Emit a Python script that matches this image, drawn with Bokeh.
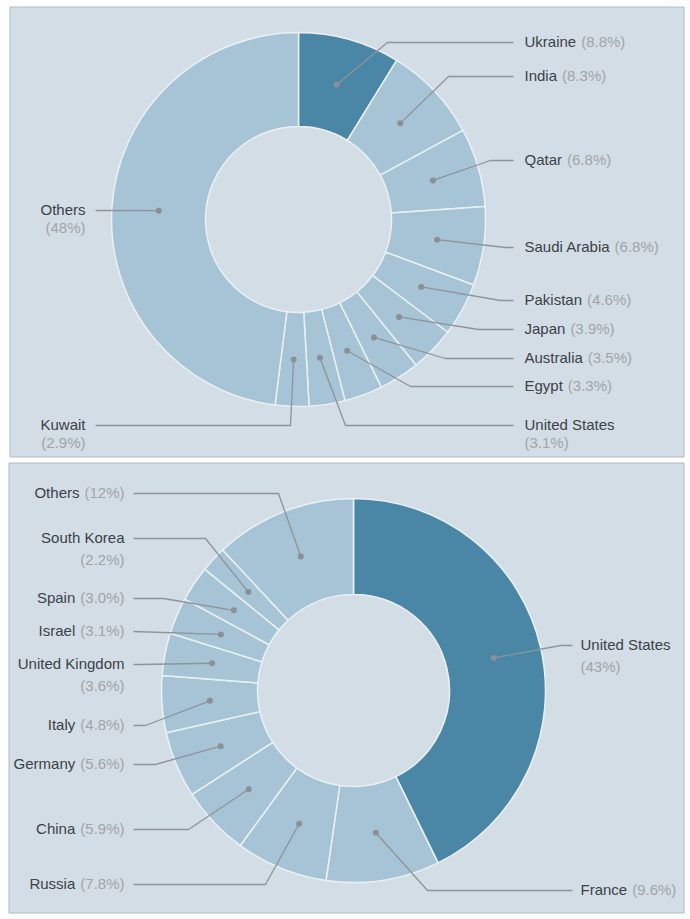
import math
import glob
from bokeh.plotting import figure
from bokeh.models import Range1d
from bokeh.core.properties import value
from bokeh.embed import file_html
from bokeh.resources import INLINE

# ---------------- data ----------------
top_names = ["Ukraine", "India", "Qatar", "Saudi Arabia", "Pakistan", "Japan",
             "Australia", "Egypt", "United States", "Kuwait", "Others"]
top_shares = [8.8, 8.3, 6.8, 6.8, 4.6, 3.9, 3.5, 3.3, 3.1, 2.9, 48]
top_pcts = ["(8.8%)", "(8.3%)", "(6.8%)", "(6.8%)", "(4.6%)", "(3.9%)",
            "(3.5%)", "(3.3%)", "(3.1%)", "(2.9%)", "(48%)"]

bot_names = ["United States", "France", "Russia", "China", "Germany", "Italy",
             "United Kingdom", "Israel", "Spain", "South Korea", "Others"]
bot_shares = [43, 9.6, 7.8, 5.9, 5.6, 4.8, 3.6, 3.1, 3.0, 2.2, 12]
bot_pcts = ["(43%)", "(9.6%)", "(7.8%)", "(5.9%)", "(5.6%)", "(4.8%)",
            "(3.6%)", "(3.1%)", "(3.0%)", "(2.2%)", "(12%)"]

# ---------------- layout (page pixels) ----------------
top_center = (298, 219)
top_radii = (93, 187)
top_side = ["R"] * 9 + ["L", "L"]
top_label_y = [41, 75, 159, 246, 299, 328, 357, 385, 424, 424, 209]
top_two_line = [False] * 8 + [True, True, True]
top_elbow_x = [387, 448, 490, 505, 500, 478, 445, 410, 345, 290, 95]

bot_center = (353, 690)
bot_radii = (96, 192)
bot_side = ["R", "R"] + ["L"] * 9
bot_label_y = [644, 889, 883, 828, 763, 724, 663, 630, 597, 537, 492]
bot_two_line = [True, False, False, False, False, False, True, False, False, True, False]
bot_elbow_x = [560, 427, 265, 188, 155, 145, 140, 133, 163, 205, 278]

FONT = "Liberation Sans"
FS = 15
NAME_COLOR = "#3b4249"
PCT_COLOR = "#a0a5a9"
LINE_COLOR = "#8e9499"
PANEL_BG = "#d3dde5"
LIGHT = "#a6c4d6"
DARK = "#4a87a6"
SEP = "#eaf1f5"


def make_measure():
    try:
        from PIL import ImageFont
        paths = glob.glob("/usr/share/fonts/**/LiberationSans-Regular.ttf", recursive=True)
        f = ImageFont.truetype(paths[0], FS)
        return lambda s: f.getlength(s)
    except Exception:
        return lambda s: 0.52 * FS * len(s)


measure = make_measure()

W, H = 688, 916


def Y(y):
    return H - y


p = figure(width=W, height=H, x_range=Range1d(0, W), y_range=Range1d(0, H),
           output_backend="svg", toolbar_location=None, min_border=0,
           min_border_left=0, min_border_right=0, min_border_top=0, min_border_bottom=0)
p.axis.visible = False
p.grid.visible = False
p.outline_line_color = None
p.background_fill_color = "white"
p.border_fill_color = "white"

# panels
p.quad(left=[9.5, 8.5], right=[683.5, 683.5], top=[Y(6.5), Y(462.5)], bottom=[Y(456.5), Y(912.5)],
       fill_color=PANEL_BG, line_color="#a9bcc6", line_width=1)


def donut(names, shares, pcts, center, radii, side, label_y, two_line, elbow_x,
          text_right_x, text_left_x, line_left_end, line_right_end, pct_dy):
    cx, cy = center
    r_in, r_out = radii
    total = float(sum(shares))
    starts, ends, mids = [], [], []
    c = 0.0
    for s in shares:
        a0 = c / total
        c += s
        a1 = c / total
        starts.append(math.pi / 2 - 2 * math.pi * a0)
        ends.append(math.pi / 2 - 2 * math.pi * a1)
        mids.append(2 * math.pi * (a0 + a1) / 2)
    colors = [DARK] + [LIGHT] * (len(shares) - 1)
    p.annular_wedge(x=[cx] * len(shares), y=[Y(cy)] * len(shares),
                    inner_radius=r_in, outer_radius=r_out,
                    start_angle=starts, end_angle=ends, direction="clock",
                    fill_color=colors, line_color=SEP, line_width=1.5)

    rm = (r_in + r_out) / 2
    dots_x = [cx + rm * math.sin(m) for m in mids]
    dots_y = [Y(cy - rm * math.cos(m)) for m in mids]

    xs, ys = [], []
    nx, ny, nt, na = [], [], [], []
    qx, qy, qt, qa = [], [], [], []
    for i in range(len(shares)):
        ly = label_y[i]
        if side[i] == "R":
            end_x = line_right_end
            nx.append(text_right_x); na.append("left")
            if two_line[i]:
                qx.append(text_right_x); qy.append(Y(ly + pct_dy))
            else:
                qx.append(text_right_x + measure(names[i]) + 5); qy.append(Y(ly))
            qa.append("left")
        else:
            end_x = line_left_end
            if two_line[i]:
                nx.append(text_left_x); na.append("right")
                qx.append(text_left_x); qy.append(Y(ly + pct_dy)); qa.append("right")
            else:
                qx.append(text_left_x); qy.append(Y(ly)); qa.append("right")
                nx.append(text_left_x - measure(pcts[i]) - 5); na.append("right")
        ny.append(Y(ly)); nt.append(names[i]); qt.append(pcts[i])
        xs.append([dots_x[i], elbow_x[i], end_x])
        ys.append([dots_y[i], Y(ly + 1), Y(ly + 1)])

    p.multi_line(xs=xs, ys=ys, line_color=LINE_COLOR, line_width=1.3)
    p.scatter(x=dots_x, y=dots_y, size=6, fill_color="#8a9095", line_color=None)
    p.text(x=nx, y=ny, text=nt, text_align=na, text_baseline="middle",
           text_font=value(FONT), text_font_size=f"{FS}px", text_color=NAME_COLOR)
    p.text(x=qx, y=qy, text=qt, text_align=qa, text_baseline="middle",
           text_font=value(FONT), text_font_size=f"{FS}px", text_color=PCT_COLOR)


donut(top_names, top_shares, top_pcts, top_center, top_radii, top_side, top_label_y,
      top_two_line, top_elbow_x, text_right_x=524, text_left_x=85,
      line_left_end=95, line_right_end=513, pct_dy=18)
donut(bot_names, bot_shares, bot_pcts, bot_center, bot_radii, bot_side, bot_label_y,
      bot_two_line, bot_elbow_x, text_right_x=580, text_left_x=124,
      line_left_end=133, line_right_end=572, pct_dy=22)

open("out.html", "w").write(file_html(p, INLINE))
